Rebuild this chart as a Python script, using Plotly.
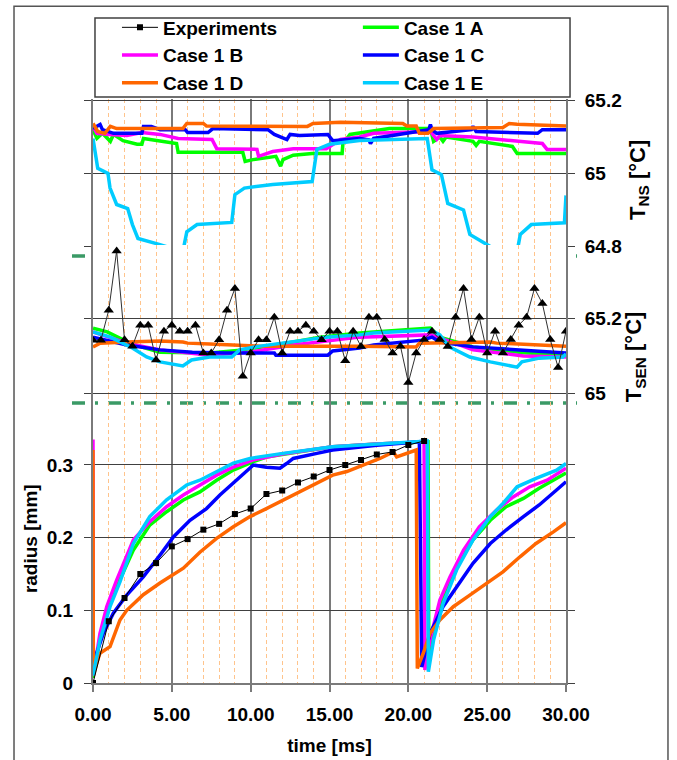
import plotly.graph_objects as go

# ---------------- data ----------------
# time axis ticks
x_tickvals = [0, 5, 10, 15, 20, 25, 30]
x_ticktext = ["0.00", "5.00", "10.00", "15.00", "20.00", "25.00", "30.00"]

# --- radius panel ---
exp_r_t = [0, 1, 2, 3, 4, 5, 6, 7, 8, 9, 10, 11, 12, 13, 14, 15, 16, 17, 18, 19, 20, 21]
exp_r = [0, 0.085, 0.117, 0.150, 0.165, 0.188, 0.198, 0.211, 0.219, 0.2325, 0.240,
         0.260, 0.265, 0.276, 0.284, 0.293, 0.300, 0.307, 0.3145, 0.318, 0.3275, 0.333]

r_a_t = [0, 0.05, 0.44, 0.87, 1.5, 2.56, 3.6, 4.67, 5.73, 6.78, 7.84, 8.9, 10.17, 11.0, 13.0,
         15.2, 18.0, 21.25, 21.3, 21.6, 22.2, 23.06, 24.1, 25.2, 26.2, 27.3, 28.3, 29.4, 30]
r_a = [0.007, 0.02, 0.059, 0.096, 0.1325, 0.183, 0.2174, 0.2357, 0.2518, 0.263, 0.279, 0.293,
       0.3045, 0.311, 0.318, 0.325, 0.329, 0.332, 0.027, 0.068, 0.119, 0.16, 0.197, 0.224,
       0.2426, 0.254, 0.268, 0.2817, 0.289]

r_b_t = [0, 0.02, 0.44, 0.87, 1.5, 2.56, 3.6, 4.67, 5.73, 6.78, 7.84, 8.9, 10.17, 12.0, 15.2,
         18.0, 21.0, 21.05, 21.37, 22.0, 22.64, 23.5, 24.5, 25.6, 26.65, 27.7, 28.8, 30]
r_b = [0.335, 0.01, 0.068, 0.105, 0.1417, 0.197, 0.222, 0.2426, 0.2587, 0.2725, 0.286, 0.297,
       0.307, 0.315, 0.325, 0.329, 0.332, 0.018, 0.059, 0.114, 0.146, 0.183, 0.215, 0.238,
       0.256, 0.270, 0.279, 0.2955]

r_c_t = [0, 0.23, 0.65, 1.29, 2.14, 3.19, 4.25, 5.1, 6.15, 7.2, 8.05, 9.1, 10.17, 11.0, 11.86,
         12.28, 12.7, 14.2, 15.2, 18.0, 20.7, 20.85, 21.37, 22.2, 23.06, 24.1, 25.2, 26.2,
         27.3, 28.3, 29.4, 30]
r_c = [0.03, 0.041, 0.068, 0.096, 0.121, 0.146, 0.176, 0.201, 0.224, 0.240, 0.2587, 0.279,
       0.300, 0.297, 0.2955, 0.302, 0.309, 0.316, 0.3206, 0.327, 0.332, 0.022, 0.068, 0.105,
       0.1325, 0.1647, 0.192, 0.2105, 0.229, 0.245, 0.2656, 0.277]

r_d_t = [0, 0.02, 0.23, 0.44, 1.08, 1.71, 2.14, 3.19, 4.25, 5.73, 6.78, 7.84, 8.9, 9.96, 11.0,
         12.07, 13.1, 14.2, 15.2, 16.1, 17.1, 18.2, 19.05, 19.26, 20.5, 20.57, 20.95, 21.37,
         22.0, 22.85, 23.9, 24.96, 26.0, 27.1, 28.1, 29.2, 30]
r_d = [0.3206, 0.01, 0.027, 0.041, 0.050, 0.0867, 0.100, 0.1215, 0.1376, 0.158, 0.180, 0.199,
       0.215, 0.229, 0.240, 0.252, 0.263, 0.275, 0.286, 0.291, 0.300, 0.309, 0.318, 0.311,
       0.3206, 0.020, 0.041, 0.068, 0.0867, 0.105, 0.121, 0.137, 0.153, 0.174, 0.192, 0.208,
       0.2205]

r_e_t = [0, 0.1, 0.44, 1.08, 1.71, 2.56, 3.6, 4.67, 5.94, 6.78, 7.84, 8.9, 9.96, 12.05, 15.2,
         18.0, 21.2, 21.27, 21.6, 22.2, 23.06, 24.1, 25.2, 26.0, 26.9, 28.1, 29.4, 30]
r_e = [0.01, 0.02, 0.059, 0.105, 0.139, 0.192, 0.229, 0.252, 0.2725, 0.279, 0.291, 0.3026,
       0.309, 0.316, 0.325, 0.329, 0.333, 0.0156, 0.059, 0.109, 0.1555, 0.197, 0.229, 0.247,
       0.27, 0.2817, 0.293, 0.302]

# --- T_SEN panel ---
exp_sen_t = [0, 0.5, 1, 1.5, 2, 2.5, 3, 3.5, 4, 4.5, 5, 5.5, 6, 6.5, 7, 7.5, 8, 8.5, 9, 9.5,
             10, 10.5, 11, 11.5, 12, 12.5, 13, 13.5, 14, 14.5, 15, 15.5, 16, 16.5, 17, 17.5,
             18, 18.5, 19, 19.5, 20, 20.5, 21, 21.5, 22, 22.5, 23, 23.5, 24, 24.5, 25, 25.5,
             26, 26.5, 27, 27.5, 28, 28.5, 29, 29.5, 30]
exp_sen = [65.141, 65.141, 65.221, 65.379, 65.142, 65.125, 65.181, 65.181, 65.088, 65.165,
           65.181, 65.165, 65.165, 65.181, 65.107, 65.107, 65.142, 65.221, 65.279, 65.045,
           65.107, 65.142, 65.142, 65.202, 65.107, 65.165, 65.165, 65.181, 65.165, 65.142,
           65.165, 65.165, 65.086, 65.165, 65.124, 65.202, 65.202, 65.143, 65.107, 65.125,
           65.028, 65.107, 65.143, 65.165, 65.143, 65.124, 65.202, 65.279, 65.143, 65.202,
           65.107, 65.165, 65.107, 65.143, 65.181, 65.202, 65.279, 65.239, 65.143, 65.068,
           65.165]

sen_a_t = [0, 0.9, 2.5, 4.25, 7.4, 9.5, 12.7, 14.4, 16.9, 21.4, 22.0, 24.1, 27.3, 30]
sen_a = [65.173, 65.163, 65.13, 65.109, 65.107, 65.115, 65.136, 65.149, 65.16, 65.173, 65.149,
         65.123, 65.107, 65.101]
sen_b_t = [0, 2.15, 4.25, 7.4, 10.0, 12.7, 16.9, 21.4, 22.0, 24.1, 27.3, 30]
sen_b = [65.163, 65.133, 65.115, 65.101, 65.109, 65.128, 65.149, 65.155, 65.147, 65.115,
         65.099, 65.096]
sen_c_t = [0, 2.15, 4.25, 6.3, 8.4, 10.6, 11.5, 11.6, 14.9, 15.2, 16.9, 17.8, 20.9, 21.5,
           22.0, 24.1, 27.3, 30]
sen_c = [65.149, 65.128, 65.115, 65.109, 65.107, 65.107, 65.107, 65.101, 65.101, 65.112,
         65.12, 65.128, 65.141, 65.149, 65.136, 65.123, 65.115, 65.107]
sen_d_t = [0, 0.45, 2.15, 4.25, 5.7, 6.0, 7.4, 10.6, 16.9, 20.5, 20.7, 24.1, 25.2, 25.6,
           28.3, 30]
sen_d = [65.123, 65.133, 65.136, 65.139, 65.136, 65.133, 65.131, 65.125, 65.125, 65.123,
         65.133, 65.136, 65.136, 65.133, 65.128, 65.125]
sen_e_t = [0, 1.1, 2.5, 3.4, 4.25, 5.7, 6.25, 7.4, 8.8, 9.3, 10.6, 12.7, 14.8, 16.9, 17.8,
           21.4, 22.0, 22.6, 23.9, 25.2, 26.9, 27.2, 28.3, 29.8, 30]
sen_e = [65.163, 65.149, 65.12, 65.096, 65.083, 65.072, 65.088, 65.096, 65.096, 65.115,
         65.125, 65.136, 65.149, 65.155, 65.16, 65.168, 65.155, 65.123, 65.096, 65.083,
         65.069, 65.083, 65.093, 65.096, 65.104]

# --- T_NS panel ---
ns_a_t = [0, 0.25, 0.6, 1.1, 1.3, 1.9, 2.8, 3.1, 3.2, 4.25, 5.3, 5.4, 9.5, 9.65, 10.15, 11.6,
          11.9, 12.05, 12.7, 13.9, 15.8, 15.85, 16.3, 18.8, 21.4, 21.6, 22.0, 22.2, 22.4, 24.1,
          24.3, 24.5, 26.6, 26.9, 30]
ns_a = [65.12, 65.096, 65.11, 65.088, 65.107, 65.09, 65.08, 65.08, 65.096, 65.088, 65.082,
        65.058, 65.058, 65.033, 65.038, 65.047, 65.02, 65.038, 65.05, 65.055, 65.055, 65.082,
        65.107, 65.123, 65.123, 65.088, 65.1, 65.088, 65.1, 65.088, 65.077, 65.088, 65.074,
        65.055, 65.055]
ns_b_t = [0, 0.25, 1.1, 2.15, 3.1, 4.25, 5.4, 7.55, 7.85, 10.4, 10.5, 11.4, 12.7, 14.8, 15.7,
          16.9, 17.8, 21.4, 21.8, 22.0, 24.1, 28.5, 28.8, 30]
ns_b = [65.129, 65.11, 65.107, 65.104, 65.112, 65.107, 65.096, 65.093, 65.068, 65.066, 65.047,
        65.06, 65.068, 65.068, 65.093, 65.10, 65.11, 65.115, 65.093, 65.104, 65.10, 65.082,
        65.066, 65.066]
ns_c_t = [0, 0.45, 0.6, 1.3, 3.1, 3.2, 3.7, 4.25, 5.85, 6.0, 7.3, 7.6, 11.1, 11.5, 12.3, 12.5,
          13.1, 14.9, 15.2, 16.9, 17.5, 17.6, 17.8, 21.3, 21.4, 21.5, 21.8, 24.0, 24.1, 24.3,
          28.2, 28.5, 30]
ns_c = [65.123, 65.134, 65.12, 65.11, 65.11, 65.129, 65.129, 65.12, 65.12, 65.112, 65.112,
        65.123, 65.12, 65.107, 65.093, 65.107, 65.104, 65.107, 65.09, 65.096, 65.092, 65.082,
        65.096, 65.12, 65.134, 65.12, 65.11, 65.12, 65.129, 65.115, 65.11, 65.12, 65.12]
ns_d_t = [0, 0.3, 0.75, 1.1, 1.5, 5.7, 5.95, 7.0, 7.2, 13.6, 13.95, 15.7, 19.65, 19.9, 20.5,
          20.7, 21.25, 21.6, 26.0, 26.4, 26.9, 30]
ns_d = [65.137, 65.115, 65.11, 65.129, 65.123, 65.123, 65.137, 65.137, 65.13, 65.129, 65.137,
        65.14, 65.137, 65.13, 65.13, 65.11, 65.11, 65.123, 65.126, 65.137, 65.135, 65.13]
ns_e_t = [0, 0.3, 0.95, 1.08, 1.5, 2.2, 2.5, 2.85, 4.25, 5.7, 5.95, 6.6, 8.8, 9.0, 9.6, 11.4,
          13.9, 14.2, 15.0, 16.9, 21.2, 21.5, 22.1, 22.5, 23.5, 23.9, 25.2, 26.9, 27.1, 27.8,
          29.9, 30.0]
ns_e = [65.096, 65.014, 65.0, 64.96, 64.915, 64.904, 64.86, 64.822, 64.805, 64.786, 64.84,
        64.86, 64.866, 64.942, 64.96, 64.97, 64.978, 65.066, 65.08, 65.09, 65.096, 65.01,
        64.997, 64.918, 64.90, 64.833, 64.80, 64.786, 64.833, 64.86, 64.865, 64.94]

case_names = ["Case 1 A", "Case 1 B", "Case 1 C", "Case 1 D", "Case 1 E"]
case_colors = ["#00FF00", "#FF00FF", "#0000FF", "#FF6600", "#00CCFF"]
# legend column for each case (two-column legend like the original)
case_legend = ["legend2", "legend", "legend2", "legend", "legend2"]

radius_series = [(r_a_t, r_a), (r_b_t, r_b), (r_c_t, r_c), (r_d_t, r_d), (r_e_t, r_e)]
sen_series = [(sen_a_t, sen_a), (sen_b_t, sen_b), (sen_c_t, sen_c), (sen_d_t, sen_d), (sen_e_t, sen_e)]
ns_series = [(ns_a_t, ns_a), (ns_b_t, ns_b), (ns_c_t, ns_c), (ns_d_t, ns_d), (ns_e_t, ns_e)]

# ---------------- figure ----------------
FONT = "Liberation Sans"
fig = go.Figure()

for i, (name, col) in enumerate(zip(case_names, case_colors)):
    t, v = ns_series[i]
    fig.add_trace(go.Scatter(x=t, y=v, mode="lines", line=dict(color=col, width=3.5),
                             yaxis="y2", showlegend=False, name=name))
    t, v = sen_series[i]
    fig.add_trace(go.Scatter(x=t, y=v, mode="lines", line=dict(color=col, width=3.5),
                             yaxis="y3", showlegend=False, name=name))
    t, v = radius_series[i]
    fig.add_trace(go.Scatter(x=t, y=v, mode="lines", line=dict(color=col, width=3.5),
                             yaxis="y", showlegend=True, name=name, legendrank=2 + i,
                             legend=case_legend[i]))

fig.add_trace(go.Scatter(x=exp_sen_t, y=exp_sen, mode="lines+markers", yaxis="y3",
                         line=dict(color="#303030", width=1),
                         marker=dict(symbol="triangle-up", size=9, color="black"),
                         showlegend=False, name="Experiments"))
fig.add_trace(go.Scatter(x=exp_r_t, y=exp_r, mode="lines+markers", yaxis="y",
                         line=dict(color="black", width=1),
                         marker=dict(symbol="square", size=6, color="black"),
                         showlegend=True, name="Experiments", legendrank=1, legend="legend"))

GRID_X = "#7a7a7a"
GRID_Y = "#404040"
TICKFONT = dict(family=FONT, size=19, color="black", weight="bold")
common_y = dict(showgrid=True, gridcolor=GRID_Y, gridwidth=1.3, zeroline=False,
                showline=True, linecolor=GRID_X, linewidth=2, mirror="ticks",
                ticks="outside", ticklen=7, tickcolor=GRID_Y, tickwidth=1.3,
                tickfont=TICKFONT, automargin=False)

LEG_FONT = dict(family=FONT, size=19, color="black", weight="bold")
legend_common = dict(orientation="v", yanchor="top", xanchor="left", y=1.155,
                     bgcolor="rgba(0,0,0,0)", borderwidth=0, itemwidth=36,
                     tracegroupgap=0, font=LEG_FONT)

fig.update_layout(
    width=677, height=760,
    margin=dict(l=93, r=111, t=99, b=77, autoexpand=False),
    paper_bgcolor="white", plot_bgcolor="white",
    font=dict(family=FONT, size=19, color="black", weight="bold"),
    xaxis=dict(domain=[0, 1], range=[0, 30], anchor="y", automargin=False,
               tickvals=x_tickvals, ticktext=x_ticktext,
               showgrid=True, gridcolor=GRID_X, gridwidth=2, zeroline=False,
               minor=dict(dtick=1, tick0=0, showgrid=True, gridcolor="#FFC48C",
                          griddash="4px,3px", gridwidth=1, ticks=""),
               ticks="outside", ticklen=7, tickcolor=GRID_X, tickwidth=2,
               showline=True, linecolor=GRID_X, linewidth=2,
               ticklabelstandoff=6, tickfont=TICKFONT,
               title=dict(text="time [ms]", standoff=15, font=TICKFONT)),
    yaxis=dict(domain=[0, 0.494], range=[0, 0.397], side="left",
               tickvals=[0, 0.1, 0.2, 0.3], ticktext=["0", "0.1", "0.2", "0.3"],
               ticklabelstandoff=7,
               title=dict(text="radius [mm]", standoff=4, font=TICKFONT),
               **common_y),
    yaxis2=dict(domain=[0.7312, 1], range=[64.774, 65.204], side="right", anchor="x",
                tickvals=[64.8, 65.0, 65.2], ticktext=["64.8", "65", "65.2"],
                ticklabelstandoff=6, **common_y),
    yaxis3=dict(domain=[0.494, 0.75], range=[64.996, 65.3947], side="right", anchor="x",
                tickvals=[65.0, 65.2], ticktext=["65", "65.2"],
                ticklabelstandoff=6, **common_y),
    legend=dict(x=0.0507, **legend_common),
    legend2=dict(x=0.560, **legend_common),
    showlegend=True,
)

# separator lines (dash-dot), legend box and outer frame
SEP_COLOR = "#3A9A66"
sep_y = [0.7312, 0.4795]
for yy in sep_y:
    fig.add_shape(type="line", xref="paper", yref="paper", x0=-0.0444, x1=1.0233,
                  y0=yy, y1=yy, line=dict(color=SEP_COLOR, width=3.5, dash="13px,10px,3px,10px"),
                  layer="below")
fig.add_shape(type="rect", xref="paper", yref="paper", x0=-0.167, x1=1.2156,
              y0=-0.25, y1=1.159, line=dict(color="#555555", width=1.5), layer="below")
fig.add_shape(type="rect", xref="paper", yref="paper", x0=0.0042, x1=1.0085,
              y0=1.0034, y1=1.1387, line=dict(color="#404040", width=1.5),
              fillcolor="white", layer="above")

# right-hand axis titles
TITLE_FONT = dict(family=FONT, size=22, color="black", weight="bold")
fig.add_annotation(xref="paper", yref="paper", x=1.154, y=0.861, textangle=-90,
                   xanchor="center", yanchor="middle",
                   text="T<sub>NS</sub> [°C]", showarrow=False, font=TITLE_FONT)
fig.add_annotation(xref="paper", yref="paper", x=1.146, y=0.558, textangle=-90,
                   xanchor="center", yanchor="middle",
                   text="T<sub>SEN</sub> [°C]", showarrow=False, font=TITLE_FONT)

fig.write_html("out.html")
